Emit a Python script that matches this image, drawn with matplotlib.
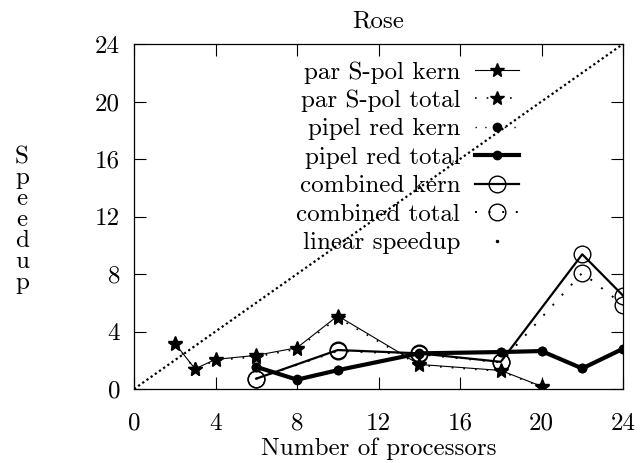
import matplotlib
matplotlib.use("Agg")
import matplotlib.pyplot as plt
from matplotlib.lines import Line2D

plt.rcParams['font.family'] = ['cmr10', 'DejaVu Serif']
plt.rcParams['axes.formatter.use_mathtext'] = True
plt.rcParams['mathtext.fontset'] = 'cm'

# ---- data ----
spol_x = [2, 3, 4, 6, 8, 10, 14, 18, 20]
spol_kern = [3.18, 1.40, 2.06, 2.34, 2.87, 5.09, 1.71, 1.29, 0.19]
spol_total = [3.12, 1.38, 2.00, 2.24, 2.78, 4.95, 1.65, 1.24, 0.15]

pipel_x = [6, 8, 10, 14, 18, 20, 22, 24]
pipel_kern = [1.50, 0.68, 1.30, 2.45, 2.55, 2.62, 1.45, 2.78]
pipel_total = [1.54, 0.65, 1.31, 2.48, 2.57, 2.64, 1.43, 2.80]

comb_x = [6, 10, 14, 18, 22, 24]
comb_kern = [0.72, 2.71, 2.48, 1.89, 9.37, 6.50]
comb_total = [0.72, 2.65, 2.42, 1.85, 8.08, 5.86]

linear_x = [0, 24]
linear_y = [0, 24]

xticks = [0, 4, 8, 12, 16, 20, 24]
yticks = [0, 4, 8, 12, 16, 20, 24]

FS = 18

fig = plt.figure(figsize=(6.41, 4.63), dpi=100)
ax = fig.add_axes([134/641, 1-389/463, (623-134)/641, (389-44)/463])

l1, = ax.plot(spol_x, spol_kern, color='black', lw=0.8, marker='*', ms=10,
              label='par S-pol kern')
l2, = ax.plot(spol_x, spol_total, color='black', lw=1.2, ls=(0, (1, 6)),
              marker='*', ms=10, label='par S-pol total')
l3, = ax.plot(pipel_x, pipel_kern, color='black', lw=1.0, ls=(0, (1, 6)),
              marker='o', ms=6, label='pipel red kern')
l4, = ax.plot(pipel_x, pipel_total, color='black', lw=3.0,
              marker='o', ms=6, label='pipel red total')
l5, = ax.plot(comb_x, comb_kern, color='black', lw=1.6, marker='o', ms=12,
              mfc='none', mew=1.0, label='combined kern')
l6, = ax.plot(comb_x, comb_total, color='black', lw=1.4, ls=(0, (1, 6)),
              marker='o', ms=12, mfc='none', mew=1.0, label='combined total')
l7, = ax.plot(linear_x, linear_y, color='black', lw=1.6, ls=(0, (1, 1.3)),
              label='linear speedup')

lin_proxy = Line2D([], [], color='black', ls='none', marker='.', ms=3)

ax.set_xlim(0, 24)
ax.set_ylim(0, 24)
ax.set_xticks(xticks)
ax.set_yticks(yticks)
ax.set_xticklabels([str(t) for t in xticks])
ax.set_yticklabels([str(t) for t in yticks])
ax.tick_params(direction='in', length=8.5, width=0.8, top=True, right=True,
               labelsize=FS)
ax.tick_params(axis='x', pad=17)
ax.tick_params(axis='y', pad=10)
for s in ax.spines.values():
    s.set_linewidth(0.9)

ax.set_title('Rose', fontsize=FS, pad=12)
ax.set_xlabel('Number of processors', fontsize=FS, labelpad=2)
ax.set_ylabel('S\np\ne\ne\nd\nu\np', rotation=0, fontsize=FS, linespacing=0.93,
              va='center', ha='center')
ax.yaxis.set_label_coords(-0.229, 0.49)

leg = ax.legend([l1, l2, l3, l4, l5, l6, lin_proxy],
                [l.get_label() for l in [l1, l2, l3, l4, l5, l6, l7]],
                loc='upper right', bbox_to_anchor=(519/641, 1-61/463),
                bbox_transform=fig.transFigure,
                markerfirst=False, frameon=False, fontsize=FS,
                handlelength=1.75, handletextpad=0.6, labelspacing=0.24,
                borderpad=0, borderaxespad=0, numpoints=1)

fig.savefig('out.png', dpi=100)
